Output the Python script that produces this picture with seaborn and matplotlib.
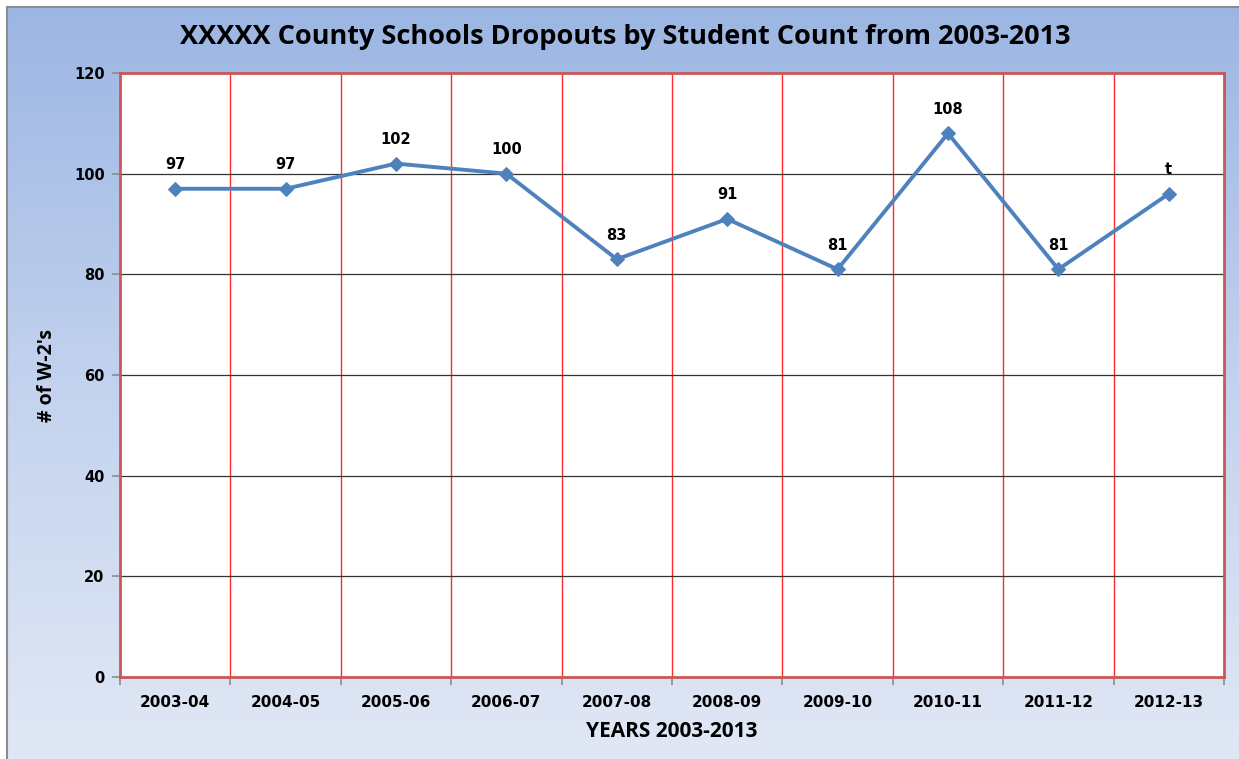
import numpy as np
import pandas as pd
import matplotlib
matplotlib.use("Agg")
import matplotlib.pyplot as plt
from matplotlib.colors import LinearSegmentedColormap
import seaborn as sns

years = ["2003-04", "2004-05", "2005-06", "2006-07", "2007-08",
         "2008-09", "2009-10", "2010-11", "2011-12", "2012-13"]
dropouts = [97, 97, 102, 100, 83, 91, 81, 108, 81, 96]
point_labels = ["97", "97", "102", "100", "83", "91", "81", "108", "81", "t"]
y_ticks = [0, 20, 40, 60, 80, 100, 120]

df = pd.DataFrame({"year": years, "count": dropouts})

sns.set_theme(style="white")
plt.rcParams["font.family"] = ["DejaVu Sans"]
plt.rcParams["text.color"] = "black"
plt.rcParams["axes.labelcolor"] = "black"
plt.rcParams["xtick.color"] = "black"
plt.rcParams["ytick.color"] = "black"

W, H = 1239, 759
fig = plt.figure(figsize=(W / 100, H / 100), dpi=100)
fig.patch.set_facecolor("white")

# gradient backdrop for the chart area
bg = fig.add_axes([7 / W, 0, 1 - 7 / W, 1 - 7 / H], zorder=0)
cmap = LinearSegmentedColormap.from_list("bg", ["#9cb6e3", "#c3d2ee", "#e1e8f5"])
grad = np.linspace(0, 1, 256).reshape(-1, 1)
bg.imshow(grad, aspect="auto", cmap=cmap, extent=[0, 1, 0, 1], origin="upper")
bg.set_xlim(0, 1)
bg.set_ylim(0, 1)
bg.set_xticks([])
bg.set_yticks([])
for side, sp in bg.spines.items():
    sp.set_visible(side in ("left", "top"))
    sp.set_color("#8c8c8c")
    sp.set_linewidth(1.5)

ax = fig.add_axes([120 / W, 1 - 677 / H, (1224 - 120) / W, (677 - 73) / H], zorder=1)
ax.set_facecolor("white")

sns.lineplot(data=df, x="year", y="count", ax=ax, color="#4f81bd", linewidth=2.8,
             marker="D", markersize=7, markeredgecolor="#4f81bd", sort=False, zorder=5)

ax.set_xlim(-0.5, len(years) - 0.5)
ax.set_ylim(0, 120)
ax.set_yticks(y_ticks)
ax.set_yticklabels([str(t) for t in y_ticks], fontsize=10.5, fontweight="bold")
ax.set_xticks(range(len(years)))
ax.set_xticklabels(years, fontsize=11, fontweight="bold")
ax.tick_params(axis="x", which="major", length=0, pad=13)
ax.tick_params(axis="y", which="major", length=6, color="#8c8c8c", width=1.2, pad=5, direction="out", left=True)

# category boundaries: red vertical grid lines and tick marks
bounds = np.arange(-0.5, len(years), 1.0)
ax.set_xticks(bounds, minor=True)
ax.tick_params(axis="x", which="minor", length=6, color="#8c8c8c", width=1.2, direction="out", bottom=True)
for b in bounds[1:-1]:
    ax.axvline(b, color="#ff2a2a", linewidth=1.0, zorder=1)
for t in y_ticks[1:-1]:
    ax.axhline(t, color="#333333", linewidth=0.9, zorder=1)

for sp in ax.spines.values():
    sp.set_visible(True)
    sp.set_color("#cc5555")
    sp.set_linewidth(2)

for i, (v, lab) in enumerate(zip(dropouts, point_labels)):
    ax.annotate(lab, (i, v), xytext=(0, 12), textcoords="offset points",
                ha="center", va="bottom", fontsize=10.5, fontweight="bold", color="black", zorder=6)

ax.set_xlabel("YEARS 2003-2013", fontsize=15, fontweight="bold", family="Open Sans", labelpad=8)
ax.set_ylabel("# of W-2's", fontsize=14, fontweight="bold", family="Open Sans", labelpad=12)

fig.text(625 / W, 1 - 37 / H, "XXXXX County Schools Dropouts by Student Count from 2003-2013",
         ha="center", va="center", fontsize=19.5, fontweight="bold", family="Open Sans", zorder=3)

fig.savefig("out.png", dpi=100, facecolor=fig.get_facecolor())
